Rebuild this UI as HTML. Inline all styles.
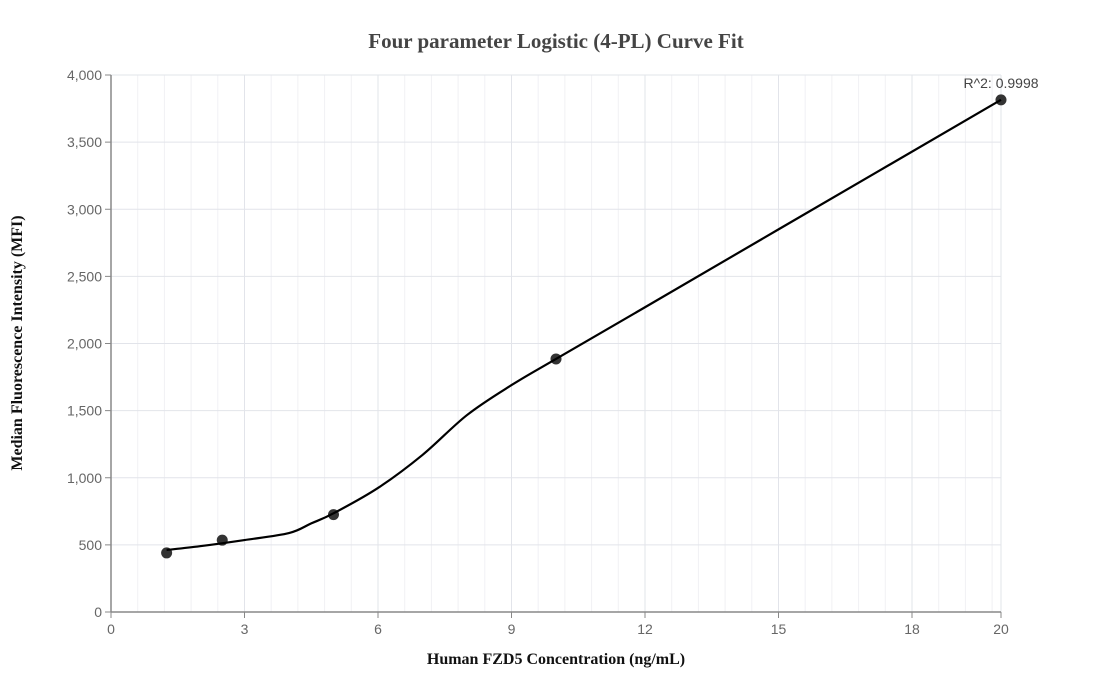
<!DOCTYPE html>
<html><head><meta charset="utf-8"><style>
body{margin:0;background:#fff;}
svg{display:block;font-family:"Liberation Sans",sans-serif;}
</style></head><body>
<svg id="chart" width="1112" height="700">
<text x="556" y="48" text-anchor="middle" font-family="Liberation Serif" font-weight="bold" font-size="21" fill="#444">Four parameter Logistic (4-PL) Curve Fit</text>
<text x="556" y="664" text-anchor="middle" font-family="Liberation Serif" font-weight="bold" font-size="16" fill="#111">Human FZD5 Concentration (ng/mL)</text>
<text transform="translate(22,343) rotate(-90)" text-anchor="middle" font-family="Liberation Serif" font-weight="bold" font-size="16" fill="#111">Median Fluorescence Intensity (MFI)</text>
<g id="grid"></g><g id="axes"></g><g id="marks"></g>
</svg>
<script>
const xTicks=[0,3,6,9,12,15,18,20];
const yTicks=[0,500,1000,1500,2000,2500,3000,3500,4000];
const pointX=[1.25,2.5,5,10,20];
const pointY=[440,535,725,1885,3815];
const curveX=[1.25,2,3,4,4.5,5,6,7,8,9,10,12,15,20];
const curveY=[462,490,536,588,660,735,924,1170,1467,1690,1885,2270,2850,3815];
const r2Label="R^2: 0.9998";
const X=v=>111+v*44.5, Y=v=>612-v*0.13425;
const NS="http://www.w3.org/2000/svg";
function mk(tag,attrs,parent,txt){const e=document.createElementNS(NS,tag);for(const k in attrs)e.setAttribute(k,attrs[k]);if(txt!=null)e.textContent=txt;parent.appendChild(e);return e;}
const g=document.getElementById('grid'),a=document.getElementById('axes'),m=document.getElementById('marks');
for(let v=0.6;v<20;v+=0.6){const l=mk('line',{x1:X(v),x2:X(v),y1:75,y2:612,stroke:'#f1f1f4','stroke-width':1},g);

}
xTicks.forEach(t=>{const l=mk('line',{x1:X(t),x2:X(t),y1:75,y2:612,stroke:'#e2e4ea','stroke-width':1},g);


const tk=mk('line',{x1:X(t),x2:X(t),y1:612,y2:618,stroke:'#888'},a);


const tx=mk('text',{x:X(t),y:634,'text-anchor':'middle','font-size':14,fill:'#666'},a,String(t));

});
yTicks.forEach(t=>{const l=mk('line',{x1:111,x2:1001,y1:Y(t),y2:Y(t),stroke:'#e2e4ea','stroke-width':1},g);


const tk=mk('line',{x1:105,x2:111,y1:Y(t),y2:Y(t),stroke:'#888'},a);


const tx=mk('text',{x:102,y:Y(t)+5,'text-anchor':'end','font-size':14,fill:'#666'},a,t.toLocaleString('en-US'));

});
const xa=mk('line',{x1:111,x2:1001,y1:612,y2:612,stroke:'#888','stroke-width':1.5},a);


const ya=mk('line',{x1:111,x2:111,y1:75,y2:612,stroke:'#888','stroke-width':1.5},a);


// smooth curve (Catmull-Rom)
const P=curveX.map((x,i)=>[X(x),Y(curveY[i])]);
let d='M'+P[0][0]+','+P[0][1];
for(let i=0;i<P.length-1;i++){const p0=P[Math.max(0,i-1)],p1=P[i],p2=P[i+1],p3=P[Math.min(P.length-1,i+2)];
d+=` C${p1[0]+(p2[0]-p0[0])/6},${p1[1]+(p2[1]-p0[1])/6} ${p2[0]-(p3[0]-p1[0])/6},${p2[1]-(p3[1]-p1[1])/6} ${p2[0]},${p2[1]}`;}
pointX.forEach((x,i)=>{const c=mk('circle',{cx:X(x),cy:Y(pointY[i]),r:5.5,fill:'#333'},m);

});
const path=mk('path',{d:d,fill:'none',stroke:'#000','stroke-width':2.2},m);


const lbl=mk('text',{x:X(pointX[4]),y:Y(pointY[4])-12,'text-anchor':'middle','font-size':14,fill:'#444'},m,r2Label);


</script>
</body></html>
